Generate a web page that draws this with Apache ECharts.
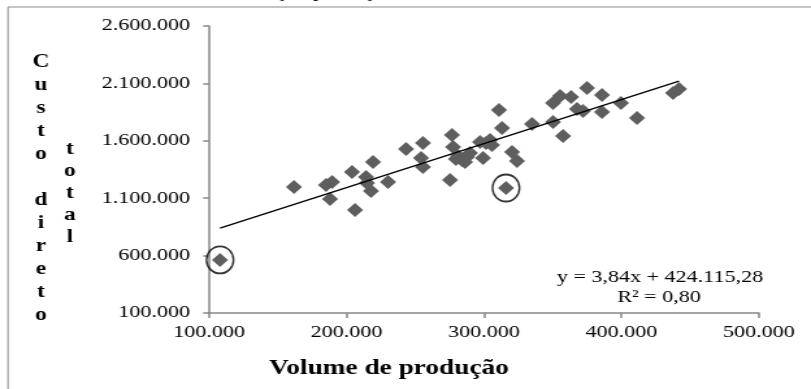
<!DOCTYPE html>
<html>
<head>
<meta charset="utf-8">
<script src="https://cdn.jsdelivr.net/npm/echarts@6/dist/echarts.min.js"></script>
<style>
html, body { margin: 0; padding: 0; background: #fff; overflow: hidden; }
/* the source picture is stretched horizontally, so the chart is drawn narrow and scaled */
#chart { width: 624px; height: 389px; transform: scaleX(1.2997); transform-origin: 0 0; }
</style>
</head>
<body>
<div id="chart"></div>
<script>
// volume de produção (x) and custo direto total (y) for each point
var volume = [
  108000, 161800, 185100, 189500, 188000, 204000, 206200, 214200, 214900, 219300,
  217800, 230200, 243300, 255600, 254200, 255600, 275300, 276700, 277500, 281100,
  284000, 287600, 286200, 279600, 299300, 297100, 301500, 304400, 305800, 313100,
  310900, 320400, 324000, 316000, 334900, 350200, 355300, 363300, 350200, 357500,
  367600, 372000, 374900, 385800, 385800, 399600, 411300, 437500, 441800, 289800
]
var cost = [
  562000, 1198000, 1215000, 1241000, 1093000, 1328000, 997000, 1285000, 1232000, 1415000,
  1163000, 1241000, 1529000, 1581000, 1450000, 1372000, 1259000, 1651000, 1546000, 1468000,
  1433000, 1459000, 1415000, 1441000, 1450000, 1590000, 1581000, 1607000, 1563000, 1711000,
  1868000, 1502000, 1424000, 1189000, 1746000, 1929000, 1990000, 1982000, 1764000, 1642000,
  1877000, 1860000, 2060000, 1999000, 1851000, 1929000, 1799000, 2016000, 2051000, 1494000
]
// points circled in the picture
var circled = [0, 33]
// trend line as printed on the chart
var slope = 3.84
var intercept = 424115.28
var xTicks = [100000, 500000, 100000]
var yTicks = [100000, 2600000, 500000]
var equationText = ['y = 3,84x + 424.115,28', 'R² = 0,80']

var S = 811 / 624
var serif = 'Liberation Serif, Times New Roman, serif'

function fmt (v) {
  return String(v).replace(/\B(?=(\d{3})+(?!\d))/g, '.')
}

var points = volume.map(function (v, i) { return [v, cost[i]] })
var rings = circled.map(function (i) { return points[i] })
var xMin = Math.min.apply(null, volume)
var xMax = Math.max.apply(null, volume)
var trend = [[xMin, slope * xMin + intercept], [xMax, slope * xMax + intercept]]

var axisLineStyle = { color: '#868686', width: 1.5 }

var chart = echarts.init(document.getElementById('chart'), null, { renderer: 'canvas' })
chart.setOption({
  backgroundColor: '#fff',
  animation: false,
  grid: {
    left: 209 / S,
    right: 624 - 759 / S,
    top: 26,
    bottom: 76,
    containLabel: false,
    outerBoundsMode: 'none'
  },
  xAxis: {
    type: 'value',
    min: xTicks[0],
    max: xTicks[1],
    interval: xTicks[2],
    axisLine: { show: true, onZero: false, lineStyle: axisLineStyle },
    axisTick: { show: true, inside: false, length: 5, lineStyle: axisLineStyle },
    splitLine: { show: false },
    axisLabel: { color: '#000', fontFamily: serif, fontSize: 17, margin: 11, formatter: fmt }
  },
  yAxis: {
    type: 'value',
    min: yTicks[0],
    max: yTicks[1],
    interval: yTicks[2],
    axisLine: { show: true, onZero: false, lineStyle: axisLineStyle },
    axisTick: { show: true, inside: false, length: 4.5, lineStyle: axisLineStyle },
    splitLine: { show: false },
    axisLabel: { color: '#000', fontFamily: serif, fontSize: 17, margin: 14.5, formatter: fmt }
  },
  series: [
    {
      type: 'scatter',
      data: points,
      symbol: 'diamond',
      symbolSize: [12.4, 14],
      itemStyle: { color: '#5e5e5e', opacity: 1 },
      z: 3
    },
    {
      type: 'line',
      data: trend,
      showSymbol: false,
      symbol: 'none',
      lineStyle: { color: '#000', width: 1.3 },
      z: 4
    },
    {
      type: 'scatter',
      data: rings,
      symbol: 'circle',
      symbolSize: [27 / S, 27],
      itemStyle: { color: 'rgba(0,0,0,0)', borderColor: '#000', borderWidth: 1.6 },
      silent: true,
      z: 5
    }
  ],
  graphic: [
    {
      type: 'rect',
      shape: { x: 8 / S, y: 7, width: 800, height: 500 },
      style: { fill: 'none', stroke: '#8c8c8c', lineWidth: 1 },
      silent: true
    },
    {
      // caption above the frame, cut off by the top edge in the picture
      type: 'text',
      x: 10 / S,
      y: 1.5,
      style: {
        text: 'Gráfico 4 – Análise de correlação produção x custo direto total',
        font: '17px ' + serif,
        fill: '#000',
        verticalAlign: 'bottom'
      }
    },
    {
      type: 'text',
      x: 41 / S,
      y: 51,
      style: {
        text: 'C\nu\ns\nt\no\n \nd\ni\nr\ne\nt\no',
        font: 'bold 18px ' + serif,
        fill: '#000',
        align: 'center',
        verticalAlign: 'top',
        lineHeight: 23
      }
    },
    {
      type: 'text',
      x: 70 / S,
      y: 138,
      style: {
        text: 't\no\nt\na\nl',
        font: 'bold 18px ' + serif,
        fill: '#000',
        align: 'center',
        verticalAlign: 'top',
        lineHeight: 22
      }
    },
    {
      type: 'text',
      x: 389 / S,
      y: 369,
      style: {
        text: 'Volume de produção',
        font: 'bold 21px ' + serif,
        fill: '#000',
        align: 'center',
        verticalAlign: 'middle'
      }
    },
    {
      type: 'text',
      x: 660 / S,
      y: 278,
      style: { text: equationText[0], font: '17px ' + serif, fill: '#000', align: 'center', verticalAlign: 'middle' }
    },
    {
      type: 'text',
      x: 659 / S,
      y: 298,
      style: { text: equationText[1], font: '17px ' + serif, fill: '#000', align: 'center', verticalAlign: 'middle' }
    }
  ]
})
</script>
</body>
</html>
